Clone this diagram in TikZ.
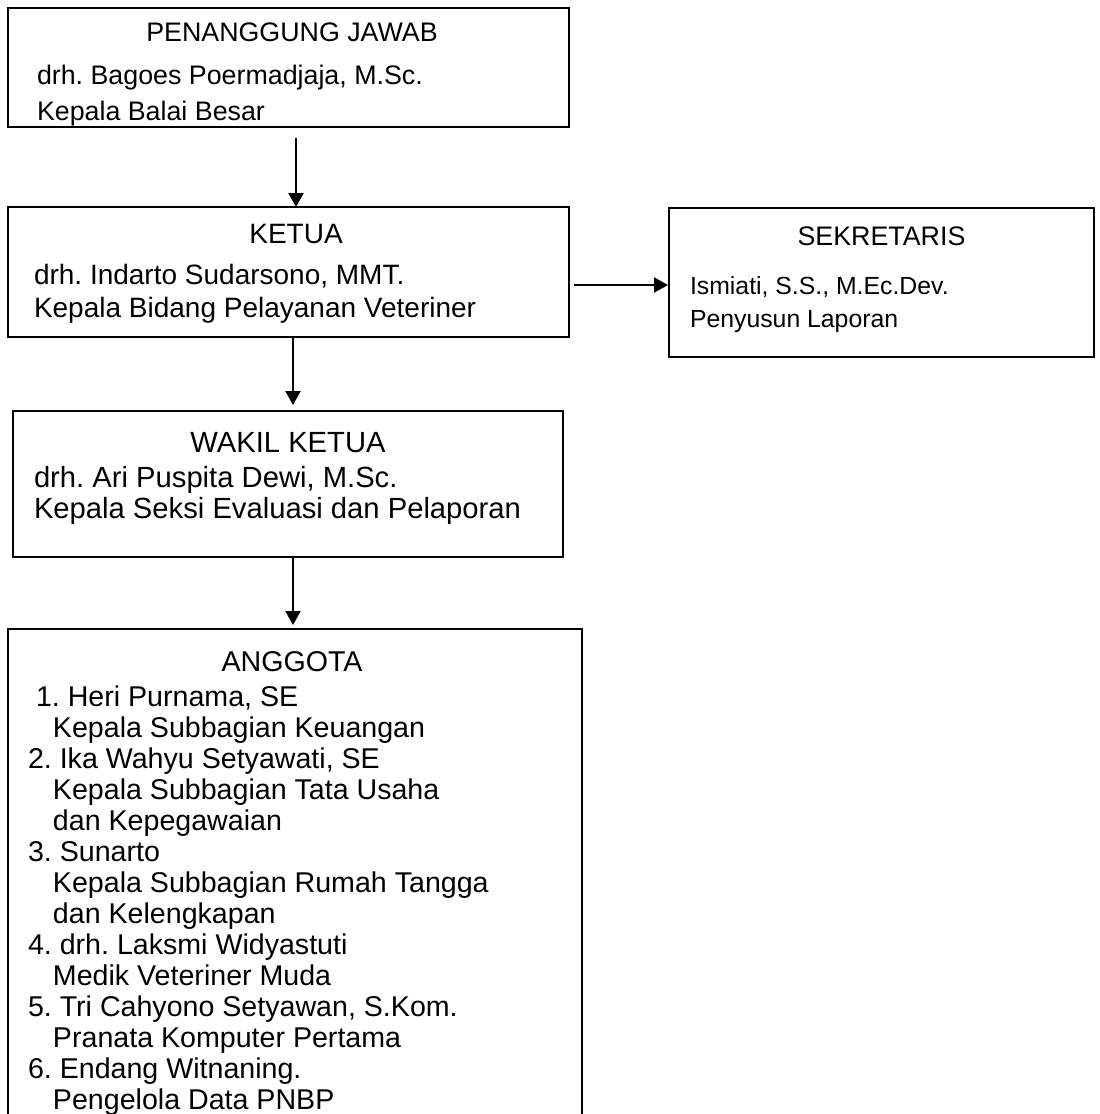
\documentclass[tikz,border=0pt]{standalone}
\usepackage{fontspec}
\setmainfont{Liberation Sans}
\usetikzlibrary{arrows.meta}
\begin{document}
\frenchspacing
\begin{tikzpicture}[x=0.5pt,y=-0.5pt,
  boxnode/.style={draw, line width=1.1pt, inner sep=0pt, outer sep=0pt, anchor=north west, fill=white},
  txtA/.style={font=\fontsize{13.4}{15}\selectfont, inner sep=0pt, outer sep=0pt},
  txtK/.style={font=\fontsize{14}{16}\selectfont, inner sep=0pt, outer sep=0pt},
  txtS/.style={font=\fontsize{12.4}{14}\selectfont, inner sep=0pt, outer sep=0pt},
  txtW/.style={font=\fontsize{14.6}{17}\selectfont, inner sep=0pt, outer sep=0pt},
  txtG/.style={font=\fontsize{14.3}{16}\selectfont, inner sep=0pt, outer sep=0pt},
  arr/.style={line width=1.1pt, -{Triangle[length=7pt,width=7.5pt]}}]
\useasboundingbox (0,0) rectangle (1099,1114);
\clip (0,0) rectangle (1099,1114);
% boxes
\node[boxnode, minimum width=280.5pt, minimum height=59.5pt] (b1) at (8,8) {};
\node[boxnode, minimum width=280.5pt, minimum height=65pt] (b2) at (8,207) {};
\node[boxnode, minimum width=212.5pt, minimum height=74.5pt] (b3) at (669,208) {};
\node[boxnode, minimum width=275pt, minimum height=73pt] (b4) at (13,411) {};
\node[boxnode, minimum width=287pt, minimum height=252pt] (b5) at (8,629) {};
% box 1
\node[txtA, anchor=base] (h1) at (292,41.5) {PENANGGUNG JAWAB};
\node[txtA, anchor=base west] (t1a) at (37,84.5) {drh. Bagoes Poermadjaja, M.Sc.};
\node[txtA, anchor=base west] (t1b) at (37,120) {Kepala Balai Besar};
% box 2
\node[txtK, anchor=base] (h2) at (296,243.5) {KETUA};
\node[txtK, anchor=base west] (t2a) at (34,284.5) {drh. Indarto Sudarsono, MMT.};
\node[txtK, anchor=base west] (t2b) at (34,317.5) {Kepala Bidang Pelayanan Veteriner};
% box 3
\node[txtA, anchor=base] (h3) at (881.5,245.5) {SEKRETARIS};
\node[txtS, anchor=base west] (t3a) at (690,294.5) {Ismiati, S.S., M.Ec.Dev.};
\node[txtS, anchor=base west] (t3b) at (690,327.5) {Penyusun Laporan};
% box 4
\node[txtW, anchor=base] (h4) at (288,452) {WAKIL KETUA};
\node[txtW, anchor=base west] (t4a) at (34,487) {drh. Ari Puspita Dewi, M.Sc.};
\node[txtW, anchor=base west] (t4b) at (34,518.5) {Kepala Seksi Evaluasi dan Pelaporan};
% box 5
\node[txtG, anchor=base] (h5) at (292,671.5) {ANGGOTA};
\node[txtG, anchor=base west] (l1) at (36,706.5) {1. Heri Purnama, SE};
\node[txtG, anchor=base west] (l2) at (53,737.5) {Kepala Subbagian Keuangan};
\node[txtG, anchor=base west] (l3) at (28,768.5) {2. Ika Wahyu Setyawati, SE};
\node[txtG, anchor=base west] (l4) at (53,799.5) {Kepala Subbagian Tata Usaha};
\node[txtG, anchor=base west] (l5) at (53,830.5) {dan Kepegawaian};
\node[txtG, anchor=base west] (l6) at (28,861.5) {3. Sunarto};
\node[txtG, anchor=base west] (l7) at (53,892.5) {Kepala Subbagian Rumah Tangga};
\node[txtG, anchor=base west] (l8) at (53,923.5) {dan Kelengkapan};
\node[txtG, anchor=base west] (l9) at (28,954.5) {4. drh. Laksmi Widyastuti};
\node[txtG, anchor=base west] (l10) at (53,985.5) {Medik Veteriner Muda};
\node[txtG, anchor=base west] (l11) at (28,1016.5) {5. Tri Cahyono Setyawan, S.Kom.};
\node[txtG, anchor=base west] (l12) at (53,1047.5) {Pranata Komputer Pertama};
\node[txtG, anchor=base west] (l13) at (28,1078.5) {6. Endang Witnaning.};
\node[txtG, anchor=base west] (l14) at (53,1109.5) {Pengelola Data PNBP};
% connectors
\draw[arr] ([xshift=3.75pt,yshift=-5.5pt]b1.south) -- ([xshift=3.75pt]b2.north);
\draw[arr] ([xshift=2.25pt]b2.south) -- ([xshift=2.5pt,yshift=3pt]b4.north);
\draw[arr] ([xshift=2.5pt]b4.south) -- ([xshift=-1pt,yshift=2pt]b5.north);
\draw[arr] ([xshift=2.5pt,yshift=-6.5pt]b2.east) -- ([xshift=-0.5pt,yshift=-1.25pt]b3.west);
\end{tikzpicture}
\end{document}
